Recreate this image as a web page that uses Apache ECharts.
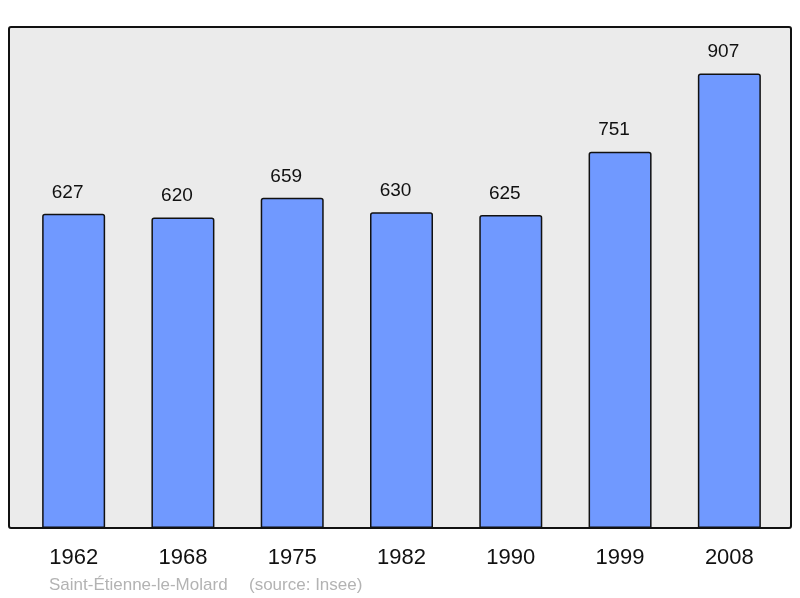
<!DOCTYPE html>
<html><head><meta charset="utf-8">
<script src="https://cdn.jsdelivr.net/npm/echarts@6/dist/echarts.min.js"></script>
<style>html,body{margin:0;padding:0;background:#fff}#c{width:800px;height:598px}</style>
</head><body><div id="c"></div>
<script>
const years = ['1962','1968','1975','1982','1990','1999','2008'];
const population = [627,620,659,630,625,751,907];
const placeName = 'Saint-Étienne-le-Molard';
const sourceNote = '(source: Insee)';

const font = '"Liberation Sans", Arial, sans-serif';
const chart = echarts.init(document.getElementById('c'), null, {renderer:'canvas'});
chart.setOption({
  animation:false,
  backgroundColor:'#ffffff',
  graphic:[
    {type:'rect', z:-10, shape:{x:9,y:27,width:782,height:501,r:2},
     style:{fill:'#ebebeb',stroke:'#111',lineWidth:2}},
    {type:'text', left:49, top:577, style:{text:placeName, fill:'#b3b3b3', font:'17px '+font}},
    {type:'text', left:249, top:577, style:{text:sourceNote, fill:'#b3b3b3', font:'17px '+font}}
  ],
  grid:{left:19,right:16,top:27,bottom:70},
  xAxis:{type:'category',data:years,
    axisLine:{show:false},axisTick:{show:false},
    axisLabel:{color:'#111',fontSize:22,fontFamily:font,margin:19}},
  yAxis:{type:'value',min:0,max:1000,show:false,splitLine:{show:false}},
  series:[{type:'bar',data:population,barWidth:63,
    itemStyle:{color:'#7099ff',borderColor:'#111',borderWidth:1.5,borderRadius:[2,2,0,0]},
    label:{show:true,position:'top',distance:12,offset:[-6,0],color:'#111',fontSize:19,
      fontFamily:font}}]
});
</script></body></html>
